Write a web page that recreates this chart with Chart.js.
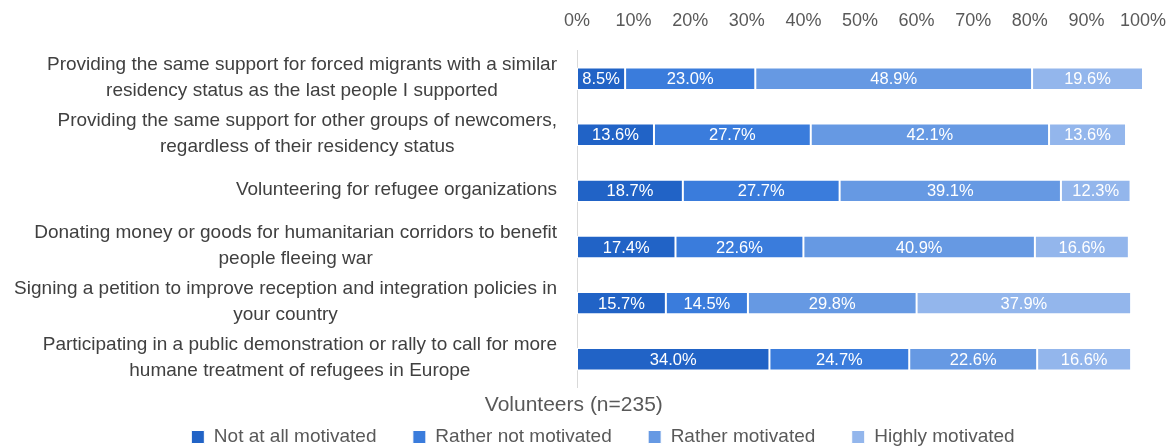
<!DOCTYPE html>
<html>
<head>
<meta charset="utf-8">
<script src="https://cdn.jsdelivr.net/npm/chart.js@4/dist/chart.umd.min.js"></script>
<style>
html,body{margin:0;padding:0;background:#fff;}
#wrap{width:1175px;height:448px;position:relative;}
</style>
</head>
<body>
<div id="wrap"><canvas id="c" width="1175" height="448"></canvas></div>
<script>
const categories = [
  ["Providing the same support for forced migrants with a similar", "residency status as the last people I supported"],
  ["Providing the same support for other groups of newcomers,", "regardless of their residency status"],
  ["Volunteering for refugee organizations"],
  ["Donating money or goods for humanitarian corridors to benefit", "people fleeing war"],
  ["Signing a petition to improve reception and integration policies in", "your country"],
  ["Participating in a public demonstration or rally to call for more", "humane treatment of refugees in Europe"]
];
const seriesNames = ["Not at all motivated", "Rather not motivated", "Rather motivated", "Highly motivated"];
const notAtAll   = [8.5, 13.6, 18.7, 17.4, 15.7, 34.0];
const ratherNot  = [23.0, 27.7, 27.7, 22.6, 14.5, 24.7];
const ratherYes  = [48.9, 42.1, 39.1, 40.9, 29.8, 22.6];
const highly     = [19.6, 13.6, 12.3, 16.6, 37.9, 16.6];
const colors = ["#2163C6", "#3A7CDC", "#6699E3", "#93B6EC"];
const titleText = "Volunteers (n=235)";

const FONT = "'Liberation Sans', Arial, sans-serif";

const labelPlugin = {
  id: 'labels',
  afterDatasetsDraw(chart) {
    const ctx = chart.ctx;
    ctx.save();
    ctx.font = "16.5px " + FONT;
    ctx.fillStyle = "#ffffff";
    ctx.textAlign = "center";
    ctx.textBaseline = "middle";
    chart.data.datasets.forEach((ds, di) => {
      const meta = chart.getDatasetMeta(di);
      meta.data.forEach((bar, i) => {
        const v = ds.data[i];
        const x = (bar.x + bar.base) / 2;
        ctx.fillText(v.toFixed(1) + "%", x, bar.y + 1);
      });
    });
    const yScale = chart.scales.y;
    ctx.fillStyle = "#404040";
    ctx.font = "19px " + FONT;
    const rightEdge = chart.chartArea.left - 20;
    const lh = 26;
    categories.forEach((lines, i) => {
      const cy = yScale.getPixelForValue(i);
      let w = 0;
      lines.forEach(l => { w = Math.max(w, ctx.measureText(l).width); });
      const cx = rightEdge - w / 2;
      const y0 = cy - (lines.length - 1) * lh / 2 - 1;
      lines.forEach((l, k) => ctx.fillText(l, cx, y0 + k * lh));
    });
    ctx.restore();
  }
};

const PADL = 63;

new Chart(document.getElementById('c'), {
  type: 'bar',
  data: {
    labels: categories,
    datasets: [notAtAll, ratherNot, ratherYes, highly].map((d, i) => ({
      label: seriesNames[i],
      data: d,
      backgroundColor: colors[i],
      borderColor: "#ffffff",
      borderWidth: 1,
      borderSkipped: false,
      categoryPercentage: 0.8,
      barPercentage: 0.5
    }))
  },
  options: {
    indexAxis: 'y',
    responsive: false,
    animation: false,
    devicePixelRatio: 1,
    layout: { padding: { left: PADL, right: 32, top: -9.4, bottom: -8.5 } },
    scales: {
      x: {
        position: 'top',
        stacked: true,
        min: 0, max: 100,
        grid: { display: false, drawTicks: false },
        border: { display: false },
        ticks: {
          stepSize: 10,
          padding: 8,
          color: "#595959",
          font: { family: FONT, size: 18, lineHeight: 44 / 18 },
          callback: v => v + "%"
        }
      },
      y: {
        stacked: true,
        grid: { display: false },
        border: { display: true, color: "#D9D9D9", width: 1 },
        ticks: { display: false },
        afterFit(s) { s.width = 577 - PADL; }
      }
    },
    plugins: {
      legend: {
        position: 'bottom',
        weight: 1000,
        labels: {
          boxWidth: 13, boxHeight: 13,
          padding: 10,
          color: "#595959",
          font: { family: FONT, size: 19 },
          generateLabels(chart) {
            const items = Chart.defaults.plugins.legend.labels.generateLabels(chart);
            items.forEach((it, i) => { if (i < items.length - 1) it.text = it.text + "     "; });
            return items;
          }
        }
      },
      title: {
        display: true,
        text: titleText + "          ",
        position: 'bottom',
        weight: 500,
        color: "#595959",
        font: { family: FONT, size: 21, weight: 'normal' },
        padding: { top: 5, bottom: 0 }
      },
      tooltip: { enabled: false }
    }
  },
  plugins: [labelPlugin]
});
</script>
</body>
</html>
